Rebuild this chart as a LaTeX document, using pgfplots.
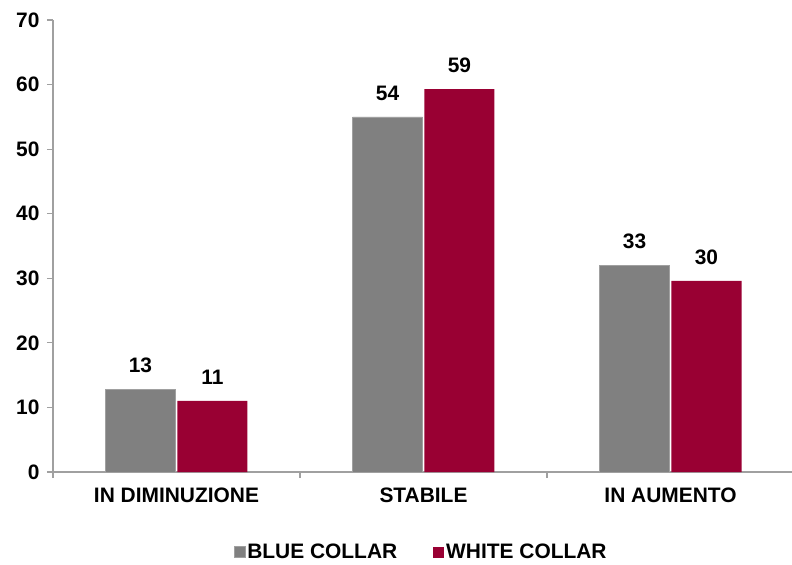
\documentclass[border=0pt]{standalone}
\usepackage{pgfplots}
\pgfplotsset{compat=1.18}
\usepackage{fontspec}
\setmainfont{Liberation Sans}
\definecolor{bluecollar}{HTML}{808080}
\definecolor{whitecollar}{HTML}{990033}
\definecolor{axisgray}{HTML}{A0A0A0}
\begin{document}
\begin{tikzpicture}
\begin{axis}[
    scale only axis,
    width=741bp, height=452bp,
    ymin=0, ymax=70,
    xmin=-0.5, xmax=2.5,
    ytick={0,10,...,70},
    xtick={0,1,2},
    xticklabels={IN DIMINUZIONE,STABILE,IN AUMENTO},
    minor xtick={-0.5,0.5,1.5,2.5},
    axis lines*=left,
    axis line style={draw=axisgray, line width=1.2bp},
    every tick/.style={draw=axisgray, line width=1.2bp},
    tick align=outside,
    major tick length=6bp,
    minor tick length=6bp,
    x tick style={draw=none},
    minor x tick style={draw=axisgray, line width=1.2bp},
    tick label style={font=\fontsize{21}{24}\selectfont\bfseries},
    /pgf/number format/assume math mode=true,
    yticklabel style={xshift=-4bp},
    xticklabel style={yshift=-6bp},
    ybar, bar width=70bp,
    point meta=explicit symbolic,
    nodes near coords,
    every node near coord/.append style={font=\fontsize{21}{24}\selectfont\bfseries, inner sep=0pt, anchor=south, yshift=16bp},
    legend columns=2,
    legend style={at={(0.497,-0.177)}, anchor=center, draw=none, fill=none,
        font=\fontsize{21}{24}\selectfont\bfseries,
        /tikz/every even column/.append style={column sep=34bp}},
    legend image code/.code={\fill[#1] (0bp,-5.5bp) rectangle (11bp,5.5bp);},
]
\addplot[fill=bluecollar, draw=axisgray] coordinates {(0,12.85) [13] (1,55.0) [54] (2,32.05) [33]};
\addplot[fill=whitecollar, draw=none] coordinates {(0,11.0) [11] (1,59.3) [59] (2,29.6) [30]};
\legend{BLUE COLLAR, WHITE COLLAR}
\end{axis}
\pgfresetboundingbox
\path[use as bounding box] ([xshift=-53bp,yshift=-93bp]current axis.south west) rectangle ([xshift=739bp,yshift=472bp]current axis.south west);
\end{tikzpicture}
\end{document}
